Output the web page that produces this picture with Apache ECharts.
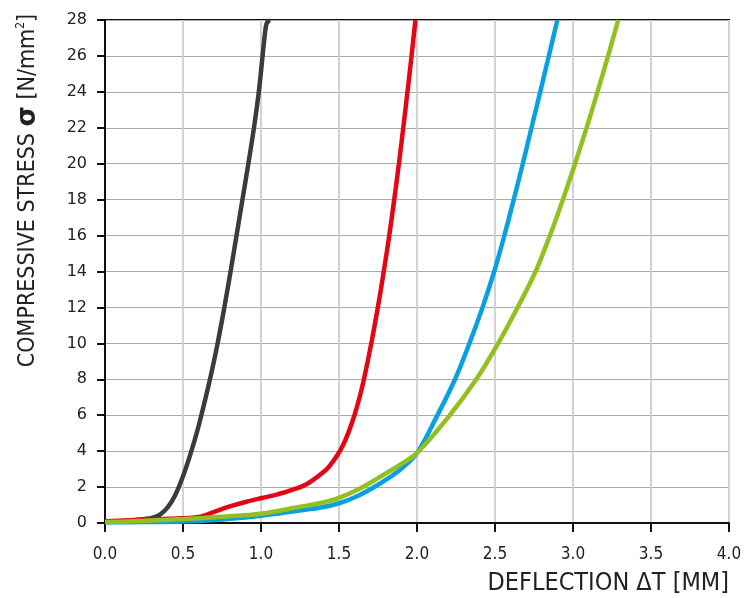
<!DOCTYPE html>
<html>
<head>
<meta charset="utf-8">
<script src="https://cdn.jsdelivr.net/npm/echarts@6/dist/echarts.min.js"></script>
<style>
  html, body { margin: 0; padding: 0; background: #fff; }
  #chart { width: 746px; height: 598px; }
</style>
</head>
<body>
<div id="chart"></div>
<script>
// deflection [mm] vs compressive stress [N/mm2]
const xTicks = [0, 0.5, 1.0, 1.5, 2.0, 2.5, 3.0, 3.5, 4.0]
const yTicks = [0, 2, 4, 6, 8, 10, 12, 14, 16, 18, 20, 22, 24, 26, 28]

const blackCurve = [
  [0, 0.05], [0.1, 0.1], [0.2, 0.17], [0.3, 0.28], [0.35, 0.45], [0.4, 0.85], [0.45, 1.55],
  [0.5, 2.6], [0.55, 3.9], [0.6, 5.4], [0.673, 8.0], [0.722, 10.0], [0.765, 12.0], [0.805, 14.0],
  [0.843, 16.0], [0.881, 18.0], [0.919, 20.0], [0.955, 22.0], [0.986, 24.0], [1.01, 26.0],
  [1.026, 27.3], [1.036, 27.8], [1.055, 28.0]
]
const redCurve = [
  [0, 0.1], [0.2, 0.17], [0.4, 0.23], [0.6, 0.33], [0.7, 0.62], [0.8, 0.92], [0.9, 1.17],
  [1.0, 1.38], [1.1, 1.58], [1.2, 1.84], [1.3, 2.2], [1.416, 2.95], [1.451, 3.3], [1.491, 3.8],
  [1.524, 4.3], [1.559, 5.0], [1.599, 6.0], [1.632, 7.0], [1.66, 8.0], [1.707, 10.0],
  [1.749, 12.0], [1.787, 14.0], [1.822, 16.0], [1.854, 18.0], [1.884, 20.0], [1.912, 22.0],
  [1.939, 24.0], [1.965, 26.0], [1.99, 28.0]
]
const blueCurve = [
  [0, 0.04], [0.25, 0.05], [0.5, 0.08], [0.75, 0.2], [1.0, 0.4], [1.25, 0.7], [1.375, 0.85],
  [1.5, 1.1], [1.63, 1.55], [1.763, 2.2], [1.89, 2.95], [2.0, 3.9], [2.126, 5.92], [2.244, 8.0],
  [2.336, 10.0], [2.42, 12.0], [2.495, 14.0], [2.56, 16.0], [2.62, 18.0], [2.678, 20.0],
  [2.734, 22.0], [2.79, 24.0], [2.845, 26.0], [2.9, 28.0]
]
const greenCurve = [
  [0, 0.05], [0.25, 0.12], [0.5, 0.22], [0.75, 0.35], [1.0, 0.52], [1.25, 0.9], [1.375, 1.1],
  [1.5, 1.4], [1.625, 1.88], [1.75, 2.5], [1.89, 3.23], [2.0, 3.9], [2.21, 6.0], [2.38, 8.0],
  [2.52, 10.0], [2.645, 12.0], [2.76, 14.0], [2.852, 16.0], [2.935, 18.0], [3.013, 20.0],
  [3.087, 22.0], [3.157, 24.0], [3.225, 26.0], [3.29, 28.0]
]

const curves = [
  { data: blackCurve, color: '#3b3b3b' },
  { data: redCurve, color: '#e30613' },
  { data: blueCurve, color: '#0a9fe0' },
  { data: greenCurve, color: '#93c01f' }
]

const narrow = "'Liberation Sans Narrow', 'DejaVu Sans Condensed', sans-serif"

const chart = echarts.init(document.getElementById('chart'))
chart.setOption({
  animation: false,
  grid: { left: 105, right: 17, top: 20, bottom: 75, show: true, borderColor: '#111', borderWidth: 2 },
  xAxis: {
    type: 'value',
    min: xTicks[0],
    max: xTicks[xTicks.length - 1],
    interval: 0.5,
    name: 'DEFLECTION ΔT [MM]',
    nameLocation: 'end',
    nameGap: 0,
    nameTextStyle: { fontFamily: narrow, fontSize: 25, color: '#222', align: 'right', verticalAlign: 'top', padding: [48, 0, 0, 0] },
    axisLine: { lineStyle: { color: '#111', width: 2 } },
    axisTick: { length: 9, lineStyle: { color: '#111', width: 2 } },
    axisLabel: { margin: 23, fontFamily: narrow, fontSize: 17, color: '#222', formatter: (v) => v.toFixed(1) },
    splitLine: { lineStyle: { color: '#d2d2d2', width: 2 } }
  },
  yAxis: {
    type: 'value',
    min: yTicks[0],
    max: yTicks[yTicks.length - 1],
    interval: 2,
    name: '{a|COMPRESSIVE STRESS }{b|σ}{a| [N/mm}{s|2}{a|]}',
    nameLocation: 'middle',
    nameGap: 64,
    nameTextStyle: {
      padding: [0, 0, 0, 162],
      rich: {
        a: { fontFamily: narrow, fontSize: 23, color: '#222' },
        b: { fontFamily: 'DejaVu Sans', fontWeight: 'bold', fontSize: 26, color: '#222' },
        s: { fontFamily: narrow, fontSize: 12, color: '#222', verticalAlign: 'top', padding: [0, 0, 10, 0] }
      }
    },
    axisLine: { lineStyle: { color: '#111', width: 2 } },
    axisTick: { length: 8, lineStyle: { color: '#111', width: 2 } },
    axisLabel: { margin: 18, fontFamily: 'DejaVu Sans', fontSize: 16, color: '#222' },
    splitLine: { lineStyle: { color: '#ababab', width: 1 } }
  },
  series: curves.map((c) => ({
    type: 'line',
    data: c.data,
    smooth: 0.35,
    showSymbol: false,
    clip: true,
    lineStyle: { color: c.color, width: 4.5 }
  }))
})
</script>
</body>
</html>
